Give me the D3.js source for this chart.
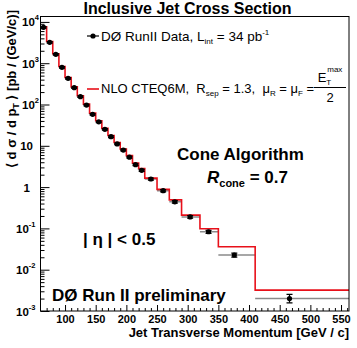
<!DOCTYPE html>
<html>
<head>
<meta charset="utf-8">
<script src="https://cdn.jsdelivr.net/npm/d3@7"></script>
<style>
body{margin:0;background:#fff;}
svg{display:block;font-family:"Liberation Sans",Arial,Helvetica,sans-serif;}
text{white-space:pre;}
</style>
</head>
<body>
<svg width="357" height="348"></svg>
<script>
// pT bins [GeV/c]
var binEdges = [60,70,80,90,100,110,120,130,140,150,160,170,180,190,200,210,220,230,250,270,290,320,350,410,563];
// data points
var ptCenter = [65,75,85,95,105,115,125,135,145,155,165,175,185,195,205,215,225,240,260,279,304,334,376,466];
var dataXs   = [7400,3210,1640,796,431,255,155,97,58,38,25,16.6,11.1,7.9,5.3,3.5,2.55,1.57,0.82,0.44,0.19,0.083,0.0227,0.0020];
var dataErrLo= [300,130,65,32,17,10,6,4,2.4,1.6,1.1,0.75,0.5,0.38,0.27,0.18,0.14,0.09,0.05,0.03,0.014,0.007,0.0025,0.00042];
var dataErrHi= [300,130,65,32,17,10,6,4,2.4,1.6,1.1,0.75,0.5,0.38,0.27,0.18,0.14,0.09,0.05,0.03,0.014,0.007,0.0025,0.00054];
// NLO CTEQ6M prediction per bin
var nloXs    = [7600,3350,1700,830,450,268,163,102,62,40.5,26.5,17.8,12.0,8.4,5.8,3.8,2.8,1.65,0.88,0.49,0.21,0.098,0.036,0.0032];
var xTicks = [100,150,200,250,300,350,400,450,500,550];
var yDecades = [-3,-2,-1,0,1,2,3,4];

var svg = d3.select("svg");
var fL = 40.5, fR = 349, fT = 16.5, fB = 311;
var red = "#e8101a";

var xScale = d3.scaleLinear().domain([60, 563]).range([fL, fR]);
var yScale = d3.scaleLog().domain([1e-3, Math.pow(10, 4.131)]).range([fB, fT]);

svg.append("clipPath").attr("id", "clip")
    .append("rect").attr("x", fL).attr("y", fT).attr("width", fR - fL).attr("height", fB - fT);

var plot = svg.append("g").attr("clip-path", "url(#clip)");

// horizontal bin-width bars of the data
plot.selectAll(".xbar")
    .data(dataXs)
    .enter().append("line")
    .attr("x1", function(d, i) { return xScale(binEdges[i]); })
    .attr("x2", function(d, i) { return xScale(binEdges[i + 1]); })
    .attr("y1", function(d) { return yScale(d); })
    .attr("y2", function(d) { return yScale(d); })
    .attr("stroke", "#8a8a8a")
    .attr("stroke-width", 1.5);

// NLO histogram
var steps = nloXs.map(function(v, i) { return [binEdges[i], v]; });
steps.push([binEdges[binEdges.length - 1], nloXs[nloXs.length - 1]]);
plot.append("path")
    .datum(steps)
    .attr("fill", "none")
    .attr("stroke", red)
    .attr("stroke-width", 1.6)
    .attr("d", d3.line()
        .x(function(d) { return xScale(d[0]); })
        .y(function(d) { return yScale(d[1]); })
        .curve(d3.curveStepAfter));

// vertical error bars
var eb = plot.selectAll(".eb").data(dataXs).enter().append("g");
eb.append("line")
    .attr("x1", function(d, i) { return xScale(ptCenter[i]); })
    .attr("x2", function(d, i) { return xScale(ptCenter[i]); })
    .attr("y1", function(d, i) { return yScale(d - dataErrLo[i]); })
    .attr("y2", function(d, i) { return yScale(d + dataErrHi[i]); })
    .attr("stroke", "#000").attr("stroke-width", 1.2);
[dataErrLo, dataErrHi].forEach(function(err, k) {
    eb.append("line")
        .attr("x1", function(d, i) { return xScale(ptCenter[i]) - 3; })
        .attr("x2", function(d, i) { return xScale(ptCenter[i]) + 3; })
        .attr("y1", function(d, i) { return yScale(k ? d + err[i] : d - err[i]); })
        .attr("y2", function(d, i) { return yScale(k ? d + err[i] : d - err[i]); })
        .attr("stroke", "#000").attr("stroke-width", 1.2);
});

plot.selectAll(".pt")
    .data(dataXs)
    .enter().append("circle")
    .attr("cx", function(d, i) { return xScale(ptCenter[i]); })
    .attr("cy", function(d) { return yScale(d); })
    .attr("r", 2.6)
    .attr("fill", "#000");

// axes: ticks point into the frame
var minorX = d3.range(70, 561, 10).filter(function(v) { return v % 50 != 0; });
svg.append("g").attr("transform", "translate(0," + fB + ")")
    .call(d3.axisBottom(xScale).tickValues(minorX).tickSize(-3).tickFormat(""))
    .call(function(g) { g.select(".domain").remove(); });
var gx = svg.append("g").attr("transform", "translate(0," + fB + ")")
    .call(d3.axisBottom(xScale).tickValues(xTicks).tickSize(-6).tickPadding(4).tickFormat(d3.format("d")));
gx.select(".domain").remove();
gx.selectAll("text").attr("font-size", "11px").attr("font-weight", "bold").attr("fill", "#000")
    .attr("font-family", "Liberation Sans, Arial, sans-serif");

var minorY = [];
yDecades.forEach(function(d) {
    for (var m = 2; m <= 9; m++) {
        var v = m * Math.pow(10, d);
        if (v < yScale.domain()[1]) minorY.push(v);
    }
});
svg.append("g").attr("transform", "translate(" + fL + ",0)")
    .call(d3.axisLeft(yScale).tickValues(minorY).tickSize(-4).tickFormat(""))
    .call(function(g) { g.select(".domain").remove(); });
svg.append("g").attr("transform", "translate(" + fL + ",0)")
    .call(d3.axisLeft(yScale).tickValues(yDecades.map(function(d) { return Math.pow(10, d); })).tickSize(-9).tickFormat(""))
    .call(function(g) { g.select(".domain").remove(); });

svg.selectAll("line").filter(function() { return this.parentNode.classList.contains("tick"); })
    .attr("stroke", "#000").attr("stroke-width", 1);

// frame
svg.append("rect")
    .attr("x", fL).attr("y", fT).attr("width", fR - fL).attr("height", fB - fT)
    .attr("fill", "none").attr("stroke", "#000").attr("stroke-width", 1);

// y tick labels 10^n
yDecades.forEach(function(d) {
    var ty = yScale(Math.pow(10, d));
    var xEnd = d >= 2 ? 39 : (d == 1 ? 33 : (d == 0 ? 30 : 35.5));
    var t = svg.append("text")
        .attr("x", xEnd).attr("y", ty + 4.5)
        .attr("text-anchor", "end")
        .attr("font-size", "11.5px").attr("font-weight", "bold");
    if (d == 0) { t.text("1"); return; }
    t.append("tspan").text("10");
    if (d != 1) {
        t.append("tspan").attr("dy", -6).attr("font-size", "7.5px").text(d);
    }
});

// axis titles
svg.append("text")
    .attr("x", 349).attr("y", 337)
    .attr("text-anchor", "end")
    .attr("font-size", "13px").attr("font-weight", "bold")
    .text("Jet Transverse Momentum [GeV / c]");

var yt = svg.append("text")
    .attr("transform", "translate(16,10) rotate(-90)")
    .attr("text-anchor", "end")
    .attr("font-size", "13px").attr("font-weight", "bold");
yt.append("tspan").text("\u27E8 d \u03C3 / d p");
yt.append("tspan").attr("dy", 3).attr("font-size", "9px").text("T");
yt.append("tspan").attr("dy", -3).text(" \u27E9 [pb / (GeV/c)]");

svg.append("text")
    .attr("x", 187.5).attr("y", 13.5)
    .attr("text-anchor", "middle")
    .attr("font-size", "16px").attr("font-weight", "bold")
    .text("Inclusive Jet Cross Section");

// legend
svg.append("line").attr("x1", 87).attr("x2", 99).attr("y1", 36).attr("y2", 36)
    .attr("stroke", "#000").attr("stroke-width", 1.2);
svg.append("circle").attr("cx", 93).attr("cy", 36).attr("r", 2.6).attr("fill", "#000");
var l1 = svg.append("text").attr("x", 101).attr("y", 40.5).attr("font-size", "13.5px");
l1.append("tspan").text("D\u00D8 RunII Data, L");
l1.append("tspan").attr("dy", 3).attr("font-size", "8px").text("int");
l1.append("tspan").attr("dy", -3).text(" = 34 pb");
l1.append("tspan").attr("dy", -6).attr("font-size", "8px").text("-1");

svg.append("line").attr("x1", 87).attr("x2", 99).attr("y1", 89).attr("y2", 89)
    .attr("stroke", red).attr("stroke-width", 1.6);
var l2 = svg.append("text").attr("x", 101).attr("y", 93).attr("font-size", "13px");
l2.append("tspan").text("NLO CTEQ6M,  R");
l2.append("tspan").attr("dy", 3).attr("font-size", "8px").text("sep");
l2.append("tspan").attr("dy", -3).text(" = 1.3,  \u03BC");
l2.append("tspan").attr("dy", 3).attr("font-size", "8px").text("R");
l2.append("tspan").attr("dy", -3).text(" = \u03BC");
l2.append("tspan").attr("dy", 3).attr("font-size", "8px").text("F");
l2.append("tspan").attr("dy", -3).text(" =");
var num = svg.append("text").attr("x", 330).attr("y", 82).attr("text-anchor", "middle").attr("font-size", "13px");
num.append("tspan").text("E");
num.append("tspan").attr("dy", 3).attr("font-size", "8px").text("T");
num.append("tspan").attr("dy", -13).attr("dx", -4).attr("font-size", "8px").text("max");
svg.append("line").attr("x1", 314).attr("x2", 346).attr("y1", 87.5).attr("y2", 87.5)
    .attr("stroke", "#000").attr("stroke-width", 1);
svg.append("text").attr("x", 330).attr("y", 102).attr("text-anchor", "middle").attr("font-size", "13px").text("2");

// labels on the plot
svg.append("text").attr("x", 177).attr("y", 160)
    .attr("font-size", "17px").attr("font-weight", "bold").text("Cone Algorithm");
var rc = svg.append("text").attr("x", 207).attr("y", 183)
    .attr("font-size", "17px").attr("font-weight", "bold");
rc.append("tspan").attr("font-style", "italic").text("R");
rc.append("tspan").attr("dy", 4).attr("font-size", "11px").text("cone");
rc.append("tspan").attr("dy", -4).text(" = 0.7");

svg.append("text").attr("x", 83).attr("y", 245)
    .attr("font-size", "17px").attr("font-weight", "bold").text("| \u03B7 | < 0.5");

svg.append("text").attr("x", 52).attr("y", 300.5)
    .attr("font-size", "17px").attr("font-weight", "bold").text("D\u00D8 Run II preliminary");
</script>
</body>
</html>
